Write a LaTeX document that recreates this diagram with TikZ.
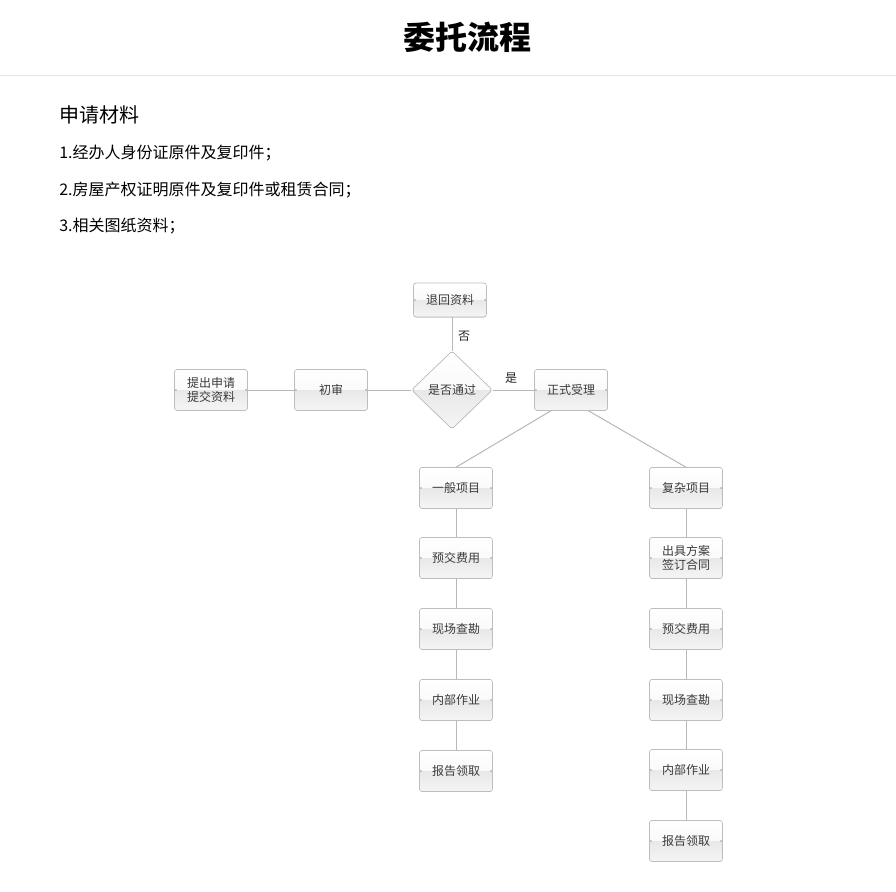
\documentclass[tikz,border=0pt]{standalone}
\usepackage{fontspec}
\setmainfont{Noto Sans CJK SC}
\usetikzlibrary{shapes.geometric}
\tikzset{>=latex}
\definecolor{boxline}{HTML}{BDBDBD}
\definecolor{flowline}{HTML}{B8B8B8}
\definecolor{boxtext}{HTML}{3A3A3A}
\definecolor{sepline}{HTML}{E6E6E6}
\tikzset{
	gloss/.style={path picture={
		\fill[top color=white, bottom color=black!4] (path picture bounding box.north west) rectangle (path picture bounding box.east);
		\fill[top color=black!9, bottom color=black!4] (path picture bounding box.west) rectangle (path picture bounding box.south east);
	}},
	stepbox/.style={draw=boxline, gloss, rounded corners=2pt, minimum width=54.75pt, minimum height=30.75pt, inner sep=1pt, align=center, text=boxtext, font=\fontsize{9}{10.5}\selectfont},
	decision/.style={diamond, draw=boxline, gloss, rounded corners=2pt, minimum width=60.75pt, minimum height=58.5pt, inner sep=0pt, text=boxtext, font=\fontsize{9}{10.5}\selectfont},
	flow/.style={draw=flowline, line width=0.75pt},
	lbl/.style={inner sep=0pt, text=black!85, font=\fontsize{9}{10.5}\selectfont},
	head/.style={anchor=west, inner sep=0pt, font=\fontsize{15}{18}\selectfont},
	item/.style={anchor=west, inner sep=0pt, font=\fontsize{12}{14}\selectfont}
}
\begin{document}
\begin{tikzpicture}[x=0.75pt,y=-0.75pt]
	\useasboundingbox (0,0) rectangle (896,892);
	\fill[white] (0,0) rectangle (896,892);

	% page head
	\node (title) at (467,37) {\fontsize{24}{28}\selectfont\bfseries 委托流程};
	\draw[sepline, line width=0.75pt] (0,76) -- (896,76);
	\node[head] (mat) at (59,115) {申请材料};
	\node[item] (m1) at (59,153) {1.经办人身份证原件及复印件；};
	\node[item] (m2) at (59,190) {2.房屋产权证明原件及复印件或租赁合同；};
	\node[item] (m3) at (59,226) {3.相关图纸资料；};

	% flow
	\node[stepbox, minimum height=25.5pt] (ret) at (450,300) {退回资料};
	\node[stepbox] (apply) at (211,390) {提出申请\\提交资料};
	\node[stepbox] (first) at (331,390) {初审};
	\node[decision] (pass) at (452,390) {是否通过};
	\node[stepbox] (accept) at (571,390) {正式受理};
	\node[lbl] (no) at (464,336) {否};
	\node[lbl] (yes) at (511,378) {是};

	\node[stepbox] (gen1) at (456,488) {一般项目};
	\node[stepbox] (gen2) at (456,558) {预交费用};
	\node[stepbox] (gen3) at (456,629) {现场查勘};
	\node[stepbox] (gen4) at (456,700) {内部作业};
	\node[stepbox] (gen5) at (456,771) {报告领取};

	\node[stepbox] (cpx1) at (686,488) {复杂项目};
	\node[stepbox] (cpx2) at (686,558) {出具方案\\签订合同};
	\node[stepbox] (cpx3) at (686,629) {预交费用};
	\node[stepbox] (cpx4) at (686,700) {现场查勘};
	\node[stepbox] (cpx5) at (686,770) {内部作业};
	\node[stepbox] (cpx6) at (686,841) {报告领取};

	\draw[flow] (apply) -- (first);
	\draw[flow] (first) -- (pass);
	\draw[flow] (pass) -- (accept);
	\draw[flow] (pass.north) -- (pass.north |- ret.south);
	\draw[flow] (accept.-134) -- (gen1.north);
	\draw[flow] (accept.-50) -- (cpx1.north);
	\foreach \a/\b in {1/2,2/3,3/4,4/5}
		\draw[flow] (gen\a) -- (gen\b);
	\foreach \a/\b in {1/2,2/3,3/4,4/5,5/6}
		\draw[flow] (cpx\a) -- (cpx\b);
\end{tikzpicture}
\end{document}
